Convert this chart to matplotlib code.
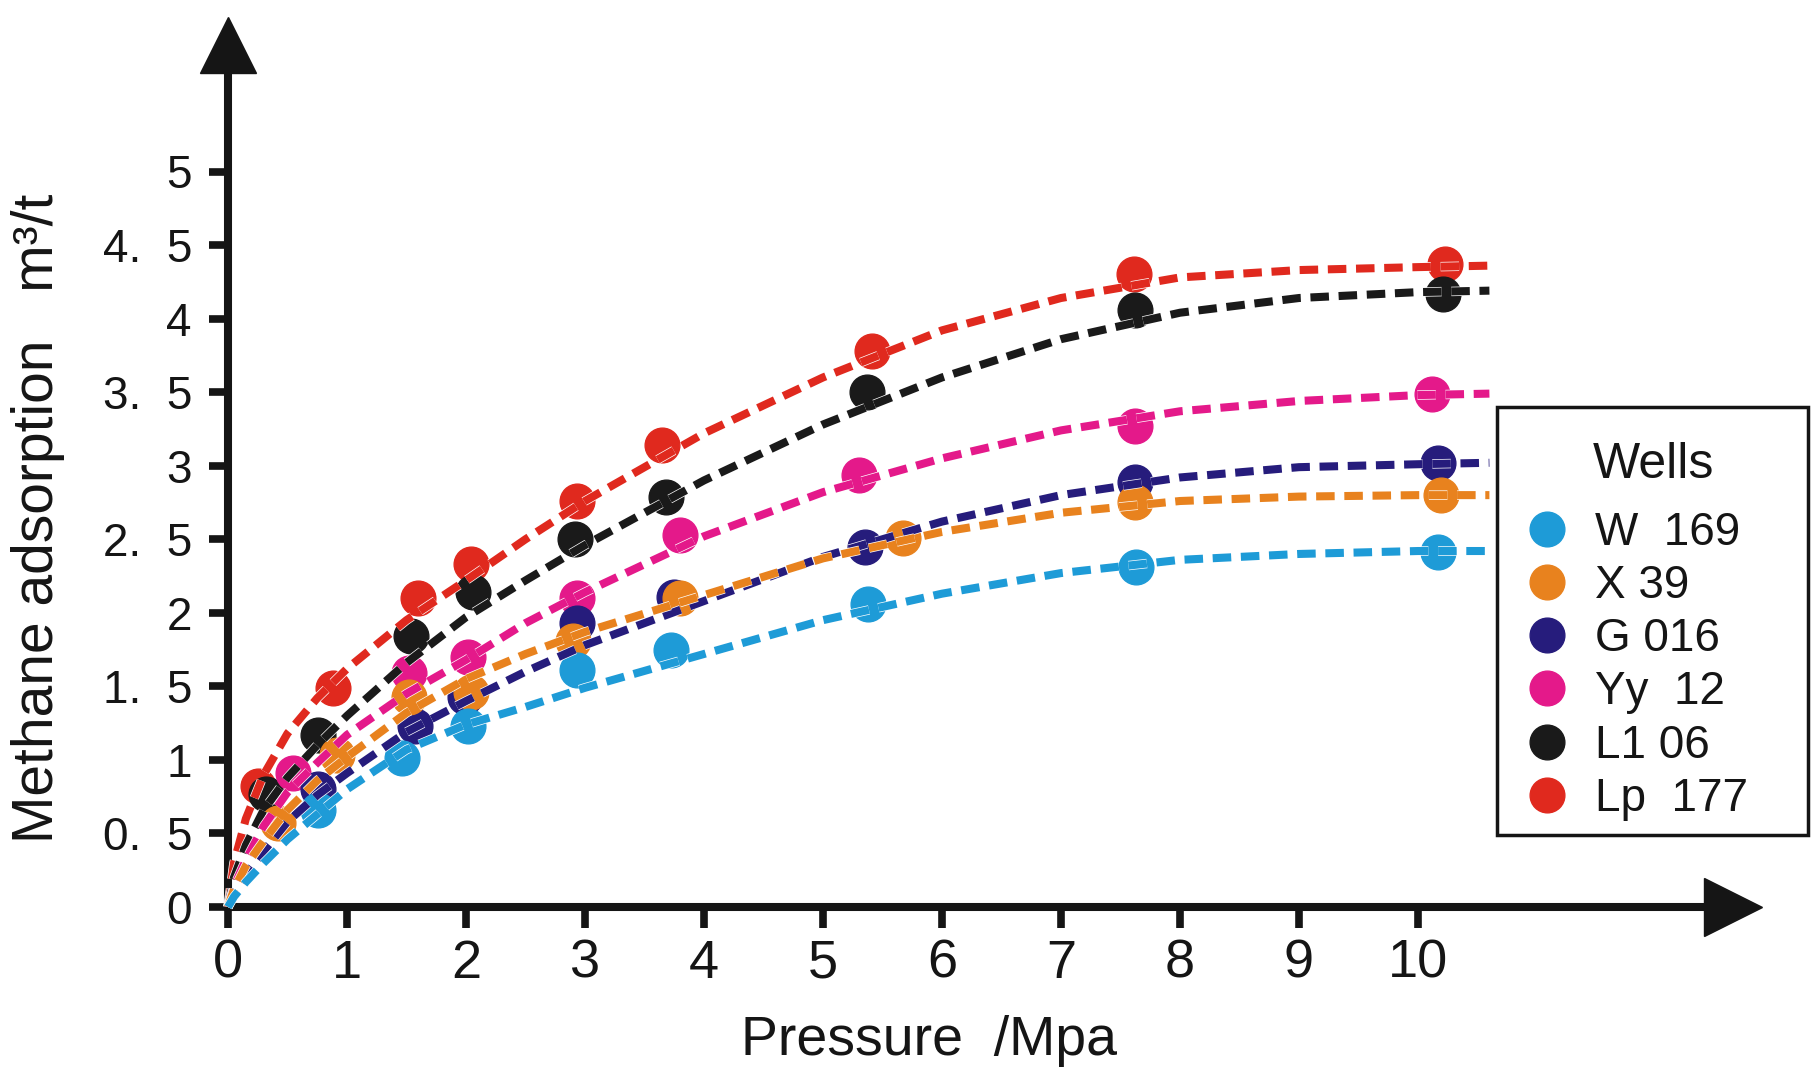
import matplotlib
matplotlib.use("Agg")
import matplotlib.pyplot as plt
import matplotlib.patheffects as pe
from matplotlib.patches import Rectangle
from matplotlib.transforms import offset_copy

plt.rcParams['font.family'] = ['Liberation Sans', 'DejaVu Sans']

wells = ["W  169", "X 39", "G 016", "Yy  12", "L1 06", "Lp  177"]
colors = ["#1E9BD7", "#E8821E", "#261C7C", "#E4198A", "#1A1A1A", "#E0291E"]

# measured points (pressure MPa, adsorption m3/t)
p_w169 = [0.76, 1.46, 2.02, 2.93, 3.72, 5.38, 7.63, 10.17]
v_w169 = [0.66, 1.01, 1.23, 1.61, 1.75, 2.06, 2.31, 2.41]
p_x39 = [0.42, 0.92, 1.52, 2.04, 2.90, 3.80, 5.67, 7.62, 10.19]
v_x39 = [0.57, 1.03, 1.43, 1.46, 1.81, 2.10, 2.51, 2.75, 2.80]
p_g016 = [0.76, 1.57, 1.99, 2.93, 3.75, 5.35, 7.62, 10.17]
v_g016 = [0.80, 1.23, 1.43, 1.93, 2.11, 2.45, 2.89, 3.02]
p_yy12 = [0.55, 1.52, 2.02, 2.93, 3.80, 5.30, 7.62, 10.12]
v_yy12 = [0.91, 1.59, 1.70, 2.10, 2.53, 2.94, 3.27, 3.49]
p_l106 = [0.32, 0.76, 1.54, 2.06, 2.92, 3.68, 5.37, 7.62, 10.21]
v_l106 = [0.77, 1.17, 1.84, 2.14, 2.50, 2.79, 3.50, 4.06, 4.17]
p_lp177 = [0.25, 0.88, 1.60, 2.04, 2.93, 3.65, 5.41, 7.61, 10.23]
v_lp177 = [0.82, 1.49, 2.10, 2.33, 2.76, 3.14, 3.78, 4.30, 4.37]

# dashed fitted curves
fit_p = [0, 0.05, 0.15, 0.3, 0.5, 0.75, 1, 1.5, 2, 2.5, 3, 4, 5, 6, 7, 8, 9, 10, 10.6]
fit_w169 = [0, 0.07, 0.17, 0.30, 0.46, 0.63, 0.80, 1.07, 1.24, 1.36, 1.49, 1.72, 1.95, 2.13, 2.27, 2.36, 2.40, 2.42, 2.42]
fit_x39 = [0, 0.12, 0.28, 0.45, 0.66, 0.86, 1.02, 1.32, 1.55, 1.72, 1.87, 2.12, 2.37, 2.55, 2.68, 2.76, 2.79, 2.80, 2.80]
fit_g016 = [0, 0.09, 0.22, 0.38, 0.58, 0.76, 0.91, 1.19, 1.40, 1.60, 1.78, 2.08, 2.38, 2.62, 2.80, 2.92, 2.99, 3.01, 3.02]
fit_yy12 = [0, 0.14, 0.32, 0.55, 0.78, 0.98, 1.17, 1.45, 1.68, 1.93, 2.14, 2.52, 2.82, 3.05, 3.24, 3.37, 3.44, 3.48, 3.49]
fit_l106 = [0, 0.20, 0.42, 0.66, 0.88, 1.10, 1.30, 1.66, 1.97, 2.22, 2.46, 2.90, 3.28, 3.60, 3.86, 4.04, 4.14, 4.18, 4.19]
fit_lp177 = [0, 0.30, 0.60, 0.90, 1.18, 1.42, 1.62, 1.95, 2.22, 2.50, 2.76, 3.22, 3.60, 3.92, 4.14, 4.28, 4.33, 4.35, 4.36]

points_p = [p_w169, p_x39, p_g016, p_yy12, p_l106, p_lp177]
points_v = [v_w169, v_x39, v_g016, v_yy12, v_l106, v_lp177]
fits = [fit_w169, fit_x39, fit_g016, fit_yy12, fit_l106, fit_lp177]

y_ticks = [0, 0.5, 1, 1.5, 2, 2.5, 3, 3.5, 4, 4.5, 5]
y_ticklabels = ["0", "0.  5", "1", "1.  5", "2", "2.  5", "3", "3.  5", "4", "4.  5", "5"]
x_ticks = list(range(0, 11))

ink = "#151515"

fig = plt.figure(figsize=(18.16, 10.68), dpi=100)
ax = fig.add_axes([228 / 1816, 161 / 1068, 1534 / 1816, 890 / 1068])
ax.set_xlim(0, 1534 / 119)
ax.set_ylim(0, 890 / 147.1)

# draw from last to first so W 169 ends on top
handles = []
for i in reversed(range(len(wells))):
    ax.plot(points_p[i], points_v[i], 'o', ms=25, color=colors[i], mec=colors[i],
            zorder=3 + (5 - i) * 0.01, clip_on=False)
for i in reversed(range(len(wells))):
    ax.plot(fit_p, fits[i], color=colors[i], lw=5.8, dashes=(2.3, 1.2),
            solid_capstyle='butt', zorder=4, clip_on=False,
            path_effects=[pe.Stroke(linewidth=6.8, foreground='white'), pe.Normal()])
for i in range(len(wells)):
    h, = ax.plot([], [], 'o', ms=25, color=colors[i], label=wells[i])
    handles.append(h)

# axes with arrow heads
for side in ['top', 'right']:
    ax.spines[side].set_visible(False)
for side in ['left', 'bottom']:
    ax.spines[side].set_linewidth(5.8)
    ax.spines[side].set_color(ink)
    ax.spines[side].set_capstyle('projecting')
ax.spines['bottom'].set_bounds(0, 12.5)
ax.spines['left'].set_bounds(0, 5.7)

tr_x = offset_copy(ax.transAxes, fig=fig, x=-21, y=0, units='points')
ax.plot([1], [0], marker='>', ms=42, color=ink, transform=tr_x, clip_on=False)
tr_y = offset_copy(ax.transAxes, fig=fig, x=0, y=-20, units='points')
ax.plot([0], [1], marker='^', ms=40, color=ink, transform=tr_y, clip_on=False)

ax.set_yticks(y_ticks)
ax.set_yticklabels(y_ticklabels)
ax.set_xticks(x_ticks)
ax.tick_params(axis='both', direction='out', width=5.5, color=ink, labelcolor=ink)
ax.tick_params(axis='y', length=14, pad=12, labelsize=33)
ax.tick_params(axis='x', length=15, pad=8, labelsize=39)

ax.set_xlabel("Pressure  /Mpa", fontsize=40, color=ink)
ax.xaxis.set_label_coords(0.457, -0.121)
ax.set_ylabel("Methane adsorption   m\u00b3/t", fontsize=41, color=ink)
ax.yaxis.set_label_coords(-0.106, 0.437)

# legend: frame and title drawn separately, entries from the legend
leg = ax.legend(handles=handles, loc='upper left',
                bbox_to_anchor=(1524 / 1816, 1 - 511 / 1068), bbox_transform=fig.transFigure,
                borderaxespad=0, frameon=False, fontsize=33, labelspacing=0.2,
                handlelength=1.0, handletextpad=0.55, borderpad=0)
for t in leg.get_texts():
    t.set_color(ink)
fig.add_artist(Rectangle((1497 / 1816, (1068 - 835) / 1068), 311 / 1816, 428 / 1068,
                         transform=fig.transFigure, fill=False, lw=2.5, ec=ink))
fig.text(1653 / 1816, 1 - 478 / 1068, "Wells", ha='center', va='baseline',
         fontsize=36, color=ink)

fig.savefig("out.png", dpi=100, facecolor='white')
